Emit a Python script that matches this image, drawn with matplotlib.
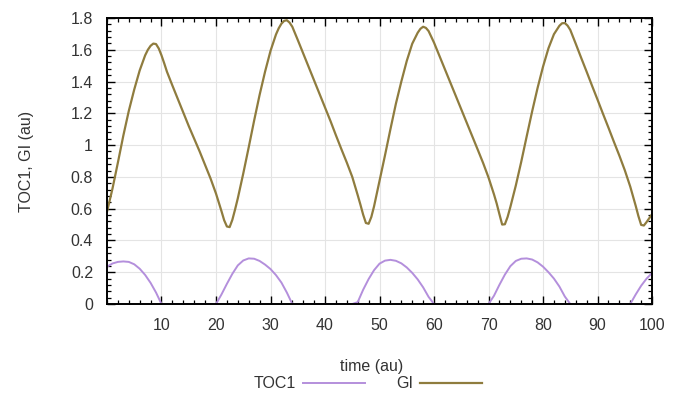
import matplotlib
matplotlib.use("Agg")
import matplotlib.pyplot as plt
from matplotlib.ticker import MultipleLocator

plt.rcParams["font.family"] = ["Liberation Sans", "DejaVu Sans"]

# TOC1, sampled every time unit
toc1_time = list(range(0, 101))
toc1 = [
    0.235, 0.255, 0.265, 0.268, 0.265, 0.250, 0.222, 0.183, 0.133, 0.072,  # 0-9
    0.000, 0.000, 0.000, 0.000, 0.000, 0.000, 0.000, 0.000, 0.000, 0.000,  # 10-19
    0.000, 0.060, 0.127, 0.190, 0.243, 0.274, 0.287, 0.285, 0.271, 0.248,  # 20-29
    0.220, 0.182, 0.135, 0.072, 0.000, 0.000, 0.000, 0.000, 0.000, 0.000,  # 30-39
    0.000, 0.000, 0.000, 0.000, 0.000, 0.000, 0.012, 0.090, 0.157, 0.213,  # 40-49
    0.254, 0.273, 0.278, 0.272, 0.256, 0.230, 0.196, 0.155, 0.105, 0.045,  # 50-59
    0.000, 0.000, 0.000, 0.000, 0.000, 0.000, 0.000, 0.000, 0.000, 0.000,  # 60-69
    0.000, 0.052, 0.121, 0.185, 0.238, 0.271, 0.285, 0.287, 0.280, 0.262,  # 70-79
    0.235, 0.200, 0.160, 0.110, 0.047, 0.000, 0.000, 0.000, 0.000, 0.000,  # 80-89
    0.000, 0.000, 0.000, 0.000, 0.000, 0.000, 0.000, 0.060, 0.115, 0.160,  # 90-99
    0.195,                                                                 # 100
]

# GI, sampled every time unit, twice as often around the turning points
gi_time = [
    0, 1, 2, 3, 4, 5, 6, 7, 7.5, 8, 8.5, 9, 9.5, 10, 10.5, 11,
    12, 13, 14, 15, 16, 17, 18, 19, 20, 21, 21.5, 22, 22.5, 23, 23.5, 24,
    25, 26, 27, 28, 29, 30, 31, 31.5, 32, 32.5, 33, 33.5, 34,
    35, 36, 37, 38, 39, 40, 41, 42, 43, 44, 45, 46, 46.5, 47, 47.5, 48,
    48.5, 49, 50, 51, 52, 53, 54, 55, 56, 57, 57.5, 58, 58.5, 59,
    60, 61, 62, 63, 64, 65, 66, 67, 68, 69, 70, 71, 71.5, 72, 72.5, 73,
    73.5, 74, 75, 76, 77, 78, 79, 80, 81, 82, 83, 83.5, 84, 84.5, 85,
    86, 87, 88, 89, 90, 91, 92, 93, 94, 95, 96, 97, 97.5, 98, 98.5, 99, 100,
]
gi = [
    0.580, 0.725, 0.890, 1.060, 1.215, 1.350, 1.470, 1.565, 1.600, 1.625,
    1.639, 1.636, 1.608, 1.565, 1.515, 1.462,
    1.375, 1.290, 1.205, 1.120, 1.040, 0.960, 0.875, 0.790, 0.695, 0.585,
    0.527, 0.488, 0.484, 0.530, 0.595, 0.665,
    0.821, 0.986, 1.155, 1.316, 1.462, 1.593, 1.696, 1.735, 1.764, 1.782,
    1.786, 1.771, 1.745,
    1.662, 1.577, 1.492, 1.407, 1.322, 1.237, 1.152, 1.062, 0.975, 0.890,
    0.800, 0.685, 0.625, 0.562, 0.510, 0.505,
    0.548, 0.615, 0.775, 0.935, 1.100, 1.260, 1.400, 1.530, 1.638, 1.707,
    1.732, 1.745, 1.738, 1.718,
    1.645, 1.561, 1.477, 1.393, 1.309, 1.225, 1.141, 1.057, 0.973, 0.888,
    0.796, 0.690, 0.632, 0.565, 0.500, 0.502,
    0.548, 0.610, 0.745, 0.895, 1.055, 1.212, 1.360, 1.494, 1.610, 1.698,
    1.751, 1.767, 1.768, 1.752, 1.725,
    1.638, 1.549, 1.462, 1.373, 1.286, 1.197, 1.110, 1.021, 0.934, 0.842,
    0.739, 0.618, 0.553, 0.498, 0.494, 0.516, 0.565,
]

x_tick_values = [10, 20, 30, 40, 50, 60, 70, 80, 90, 100]
y_tick_values = [0, 0.2, 0.4, 0.6, 0.8, 1.0, 1.2, 1.4, 1.6, 1.8]
y_tick_labels = ["0", "0.2", "0.4", "0.6", "0.8", "1", "1.2", "1.4", "1.6", "1.8"]

TOC1_COLOR = "#b48fdc"
GI_COLOR = "#8f7c3e"
TEXT_COLOR = "#333333"

fig = plt.figure(figsize=(6.75, 3.94), dpi=100)
ax = fig.add_axes([0.1585, 0.2284, 0.8075, 0.7259])

ax.plot(toc1_time, toc1, color=TOC1_COLOR, lw=1.4, label="TOC1", zorder=3)
ax.plot(gi_time, gi, color=GI_COLOR, lw=1.6, label="GI", zorder=3)

ax.set_xlim(0, 100)
ax.set_ylim(0, 1.8)
ax.set_xticks(x_tick_values)
ax.set_yticks(y_tick_values)
ax.set_yticklabels(y_tick_labels)
ax.xaxis.set_minor_locator(MultipleLocator(2))
ax.yaxis.set_minor_locator(MultipleLocator(0.04))

ax.tick_params(axis="both", which="both", direction="in",
               top=True, right=True, colors="black", labelcolor=TEXT_COLOR)
ax.tick_params(axis="both", which="major", length=6, width=1.0,
               labelsize=11.5, pad=10)
ax.tick_params(axis="both", which="minor", length=3, width=0.9)

ax.grid(True, which="major", color="#e4e4e4", lw=0.8, zorder=0)
ax.set_axisbelow(True)
for s in ax.spines.values():
    s.set_linewidth(1.4)
    s.set_color("black")
    s.set_zorder(4)

ax.set_ylabel("TOC1, GI (au)", fontsize=11.5, color=TEXT_COLOR)
ax.yaxis.set_label_coords(-0.133, 0.5)
fig.text(372 / 675, 1 - 366 / 394, "time (au)", ha="center", va="center",
         fontsize=11.5, color=TEXT_COLOR)

ax.legend(loc="center", bbox_to_anchor=(368 / 675, 1 - 384 / 394),
          bbox_transform=fig.transFigure, ncol=2, frameon=False,
          markerfirst=False, handlelength=3.9, handletextpad=0.45,
          columnspacing=1.9, fontsize=11.5, labelcolor=TEXT_COLOR,
          borderpad=0, borderaxespad=0)

fig.savefig("out.png", dpi=100, facecolor="white")
